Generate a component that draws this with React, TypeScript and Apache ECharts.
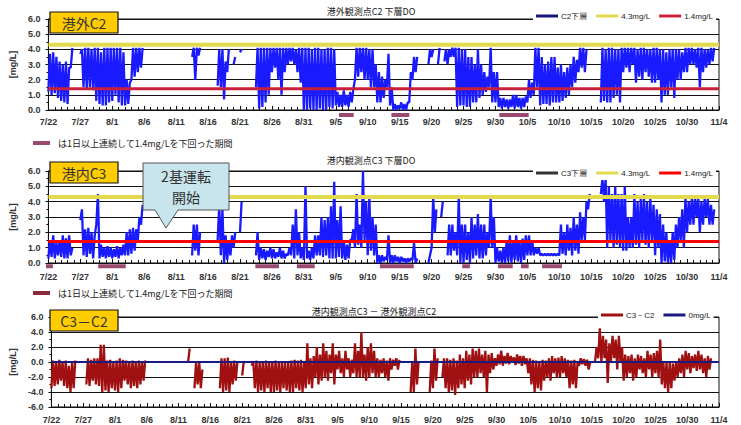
import React, { useEffect, useRef } from 'react';
import * as echarts from 'echarts';

type R = [number, number] | null;
const N = null;

// day 0 = 7/22, one tick label every 5 days
const DATE_LABELS = ['7/22', '7/27', '8/1', '8/6', '8/11', '8/16', '8/21', '8/26', '8/31', '9/5', '9/10', '9/15', '9/20', '9/25', '9/30', '10/5', '10/10', '10/15', '10/20', '10/25', '10/30', '11/4'];

// [low, high] per half day (AM, PM)
const C2_RANGES: R[] = [
  [1.2, 3.7], [1.0, 3.8], // 7/22
  [1.1, 3.5], [0.8, 3.2],
  [0.6, 3.0], [0.5, 3.2],
  [0.4, 2.8], [2.8, 4.1],
  N, N,
  [3.7, 4.0], [1.5, 4.1], // 7/27
  [1.4, 4.1], [1.5, 4.0],
  [1.3, 4.1], [0.6, 4.1],
  [0.4, 3.8], [0.3, 4.1],
  [0.3, 4.1], [0.5, 4.1],
  [0.6, 4.1], [1.0, 4.1], // 8/1
  [0.5, 4.1], [0.3, 3.8],
  [0.3, 2.0], [0.4, 1.8],
  [2.0, 4.1], [2.2, 4.1],
  [2.5, 4.1], [2.8, 4.1],
  N, N, // 8/6
  N, N,
  N, N,
  N, N,
  N, N,
  N, N, // 8/11
  N, N,
  N, [3.5, 4.1],
  [2.0, 4.1], [3.6, 4.1],
  N, N,
  N, N, // 8/16
  N, [1.6, 4.0],
  [1.5, 4.0], [0.7, 3.2],
  [2.5, 4.0], N,
  [3.0, 3.5], N,
  [3.8, 4.0], N, // 8/21
  N, N,
  N, [1.5, 4.1],
  [0.1, 4.1], [0.2, 4.1],
  [0.5, 4.1], [1.0, 4.1],
  [2.5, 4.1], [2.8, 4.1], // 8/26
  [2.0, 4.1], [1.0, 4.1],
  [2.5, 4.1], [3.0, 4.1],
  [3.2, 4.1], [3.0, 4.0],
  [2.5, 4.1], [1.8, 4.1],
  [0.0, 4.1], [0.0, 4.1], // 8/31
  [0.1, 4.0], [0.0, 4.1],
  [0.0, 4.1], [0.1, 4.0],
  [0.0, 4.0], [0.0, 4.1],
  [0.2, 4.1], [0.1, 4.0],
  [0.3, 1.2], [0.2, 1.0], // 9/5
  [0.2, 1.3], [0.3, 1.0],
  [0.2, 1.2], [0.5, 1.4],
  [2.0, 4.1], [2.2, 4.1],
  [2.5, 4.1], [2.0, 4.1],
  [2.0, 4.0], [1.5, 4.0], // 9/10
  [1.5, 3.0], [0.5, 2.5],
  [0.5, 2.2], [0.8, 2.0],
  [1.5, 3.7], [0.3, 1.5],
  [0.0, 0.4], [0.0, 0.3],
  [0.1, 0.5], [0.0, 0.4], // 9/15
  [0.0, 0.5], [0.5, 2.5],
  [2.0, 3.5], [2.5, 3.5],
  N, N,
  N, [3.0, 4.0],
  [3.5, 4.0], N, // 9/20
  [3.0, 4.1], N,
  [3.2, 4.0], [3.0, 4.0],
  [3.5, 4.1], [3.5, 4.1],
  [0.2, 4.1], [0.3, 4.0],
  [0.3, 4.0], [0.2, 3.5], // 9/25
  [0.2, 3.5], [0.5, 3.0],
  [0.5, 4.0], [0.8, 3.0],
  [1.0, 2.5], [1.2, 2.2],
  [1.5, 4.1], [0.5, 2.5],
  [0.5, 2.5], [0.2, 0.8], // 9/30
  [0.1, 0.8], [0.2, 0.7],
  [0.1, 0.7], [0.2, 1.0],
  [0.1, 1.0], [0.2, 0.8],
  [0.1, 0.8], [0.2, 0.9],
  [0.5, 2.0], [0.8, 1.8], // 10/5
  [1.0, 4.1], [1.5, 4.1],
  [0.3, 3.5], [0.4, 3.0],
  [0.4, 3.2], [0.3, 3.5],
  [0.5, 3.5], [0.5, 2.8],
  [0.5, 3.0], [0.6, 2.5], // 10/10
  [0.8, 2.8], [1.0, 3.0],
  [1.5, 3.5], [1.8, 3.3],
  [2.5, 4.1], [2.8, 4.1],
  [2.5, 4.0], N,
  N, N, // 10/15
  N, [0.5, 4.1],
  [0.6, 4.0], [0.5, 4.1],
  [0.5, 4.1], [0.8, 4.0],
  [1.0, 4.0], [0.5, 4.1],
  [2.5, 4.1], [2.8, 4.1], // 10/20
  [2.5, 4.1], [3.0, 4.1],
  [1.8, 4.0], [2.2, 4.1],
  [2.0, 4.1], [2.5, 4.0],
  [2.2, 4.0], [1.8, 4.1],
  [1.8, 4.1], [2.0, 4.0], // 10/25
  [0.5, 4.0], [1.0, 3.8],
  [1.0, 4.0], [1.5, 4.0],
  [0.8, 4.0], [2.0, 4.0],
  [2.0, 3.8], [2.5, 4.1],
  [2.5, 4.1], [3.0, 4.1], // 10/30
  [3.0, 4.0], [2.8, 4.1],
  [1.5, 4.1], [2.5, 4.0],
  [2.8, 4.0], [3.0, 4.1],
  [3.2, 4.1], N,
];

const C3_RANGES: R[] = [
  [0.3, 1.5], [0.4, 1.8], // 7/22
  [0.3, 1.3], [0.5, 1.5],
  [0.4, 1.8], [0.3, 1.6],
  [0.3, 1.8], [0.5, 1.0],
  N, N,
  [2.8, 3.5], [0.5, 2.2], // 7/27
  [0.4, 2.3], [0.6, 2.0],
  [0.3, 1.8], [2.5, 4.5],
  [0.3, 1.2], [0.4, 1.0],
  [0.3, 1.1], [0.4, 1.0],
  [0.3, 0.9], [0.4, 1.1], // 8/1
  [0.3, 1.0], [0.5, 1.2],
  [0.5, 2.0], [0.5, 2.2],
  [0.6, 2.3], [0.8, 2.2],
  [1.5, 3.0], [2.5, 3.8],
  N, N, // 8/6
  N, N,
  N, N,
  N, N,
  N, N,
  N, N, // 8/11
  N, N,
  N, [0.5, 2.5],
  [0.8, 2.5], [0.5, 2.0],
  N, N,
  N, N, // 8/16
  N, [1.5, 3.8],
  [0.5, 3.5], [0.0, 1.8],
  [0.2, 1.5], [0.5, 1.8],
  [1.0, 2.0], N,
  [2.0, 4.0], N, // 8/21
  N, N,
  N, [0.5, 2.0],
  [0.2, 1.0], [0.3, 0.9],
  [0.2, 0.8], [0.4, 1.0],
  [0.3, 0.9], [0.3, 0.7], // 8/26
  [0.4, 1.0], [0.3, 0.8],
  [0.3, 0.6], [0.5, 1.0],
  [0.5, 2.5], [0.3, 3.5],
  [0.5, 2.0], [0.3, 1.0],
  [0.2, 5.0], [0.3, 0.8], // 8/31
  [0.2, 1.0], [0.3, 1.8],
  [0.5, 1.8], [0.5, 3.0],
  [0.4, 2.8], [0.5, 3.0],
  [0.3, 3.7], [0.3, 5.3],
  [0.3, 2.8], [0.4, 3.7], // 9/5
  [0.3, 1.5], [0.2, 1.2],
  [0.3, 1.5], [1.5, 2.2],
  [1.0, 4.5], [1.2, 2.5],
  [1.0, 6.0], [1.5, 4.0],
  [0.5, 4.3], [0.8, 3.0], // 9/10
  [0.5, 2.5], [0.0, 0.5],
  [0.0, 0.5], [0.1, 0.4],
  [0.2, 1.8], [0.0, 0.5],
  [0.0, 0.5], [0.1, 0.4],
  [0.0, 0.4], [0.1, 0.3], // 9/15
  [0.0, 0.3], [0.1, 0.3],
  [0.2, 1.3], [0.0, 0.3],
  N, N,
  N, [0.0, 0.5],
  [1.0, 4.3], [2.0, 3.5], // 9/20
  N, [3.0, 4.0],
  N, [0.5, 2.5],
  [0.5, 2.5], [0.8, 2.0],
  [0.5, 4.3], [0.0, 2.5],
  [0.0, 2.5], [0.2, 2.0], // 9/25
  [0.0, 3.0], [0.3, 2.5],
  [0.5, 3.2], [0.3, 2.5],
  [0.3, 2.5], [0.5, 2.0],
  [1.0, 4.3], [1.0, 3.0],
  [0.0, 1.0], [0.1, 0.8], // 9/30
  [0.0, 1.0], [0.0, 1.5],
  [0.1, 1.8], [0.0, 1.5],
  [0.2, 1.8], [0.1, 1.5],
  [0.0, 1.6], [0.2, 1.8],
  [0.5, 1.8], [0.5, 1.5], // 10/5
  [0.5, 1.0], [0.6, 1.0],
  [0.5, 0.6], [0.5, 0.6],
  [0.5, 0.6], [0.5, 0.6],
  [0.5, 0.6], [0.5, 0.6],
  [0.5, 2.5], [0.6, 2.0], // 10/10
  [0.5, 2.5], [0.8, 2.3],
  [0.5, 3.0], [0.8, 2.5],
  [0.6, 3.3], [1.5, 3.0],
  [1.5, 4.0], [3.5, 4.5],
  N, N, // 10/15
  N, [4.5, 5.5],
  [4.0, 5.5], [1.0, 5.0],
  [1.5, 4.5], [1.0, 5.0],
  [1.2, 4.5], [1.0, 4.5],
  [0.8, 5.0], [0.8, 3.0], // 10/20
  [1.0, 3.0], [1.0, 4.5],
  [1.2, 4.0], [1.0, 4.2],
  [1.5, 4.5], [1.2, 4.0],
  [1.0, 4.2], [1.5, 3.8],
  [0.5, 3.5], [1.0, 3.2], // 10/25
  [0.0, 2.5], [0.1, 2.0],
  [0.0, 1.5], [0.0, 2.0],
  [0.2, 2.5], [1.0, 3.0],
  [1.5, 3.5], [1.0, 4.3],
  [2.0, 4.0], [2.5, 4.3], // 10/30
  [2.5, 4.2], [3.0, 4.3],
  [2.0, 4.0], [2.5, 4.2],
  [3.0, 4.2], [2.5, 3.8],
  [2.5, 3.5], N,
];

const DIFF_RANGES: R[] = [
  [-3.5, 0.2], [-3.2, 0.0], // 7/22
  [-3.0, 0.3], [-2.5, 0.0],
  [-3.2, 0.2], [-3.5, -0.5],
  [-4.0, 0.0], [-3.5, 0.2],
  N, N,
  N, [-3.0, 0.5], // 7/27
  [-3.2, 0.3], [-2.5, 0.5],
  [-3.0, 0.5], [-3.2, 2.3],
  [-4.0, 2.3], [-3.8, 0.2],
  [-4.0, 0.3], [-3.5, 0.0],
  [-3.8, 0.2], [-4.0, 0.5], // 8/1
  [-3.5, 0.3], [-2.5, 0.2],
  [-3.0, 0.0], [-3.5, 0.2],
  [-3.2, 0.0], [-3.5, 0.2],
  [-3.0, 0.1], [-2.5, 0.2],
  N, N, // 8/6
  N, N,
  N, N,
  N, N,
  N, N,
  N, N, // 8/11
  N, [0.0, 1.8],
  N, [-3.5, 0.0],
  [-3.0, 0.0], [-3.5, -1.0],
  N, N,
  N, N, // 8/16
  N, [-3.5, 0.5],
  [-4.0, 0.5], [-3.8, 0.6],
  [-4.0, 0.0], [-3.0, 0.2],
  [-2.5, 0.0], N,
  [-1.8, 0.0], N, // 8/21
  N, [-0.5, 0.1],
  [-3.5, 0.2], [-4.0, 0.0],
  [-3.8, 0.1], [-4.0, 0.2],
  [-3.5, 0.0], [-4.0, 0.1],
  [-4.0, 0.2], [-3.8, 0.0], // 8/26
  [-4.0, 0.1], [-3.5, 0.0],
  [-3.8, 0.0], [-4.0, 0.2],
  [-4.0, 0.3], [-3.5, 0.2],
  [-3.8, 0.3], [-4.0, 0.0],
  [-3.5, 2.5], [-3.0, 0.5], // 8/31
  [-3.5, 0.8], [-2.0, 2.0],
  [-3.0, 1.0], [-2.5, 2.5],
  [-2.0, 1.5], [-2.5, 1.0],
  [-1.5, 2.5], [-3.0, 1.0],
  [-1.0, 1.5], [-1.5, 0.5], // 9/5
  [-2.0, 1.5], [-1.0, 0.5],
  [-2.0, 0.3], [-1.5, 2.5],
  [-2.0, 1.5], [-2.0, 4.0],
  [-2.0, 1.0], [-2.5, 2.0],
  [-2.0, 2.5], [-1.5, 1.5], // 9/10
  [-2.0, 0.5], [-2.0, 0.3],
  [-1.5, 0.5], [-2.0, 0.2],
  [-2.5, 0.5], [-1.0, 0.3],
  [-0.5, 0.5], [-1.0, 0.3],
  N, N, // 9/15
  N, [-4.0, 0.0],
  [-4.0, 1.8], [-3.0, 0.0],
  N, N,
  N, [-4.0, 0.2],
  [-3.5, 1.8], [-2.5, 0.5], // 9/20
  N, [-2.0, 0.5],
  [-3.5, 0.5], [-4.0, 0.3],
  [-3.8, 0.5], [-4.4, 0.2],
  [-3.5, 1.0], [-3.0, 0.5],
  [-3.5, 1.5], [-2.5, 1.0], // 9/25
  [-3.0, 1.8], [-2.0, 1.5],
  [-2.0, 1.8], [-1.5, 1.0],
  [-2.0, 1.5], [-4.0, 1.0],
  [-1.5, 1.2], [-1.0, 0.5],
  [-0.5, 1.0], [-0.3, 1.5], // 9/30
  [-0.5, 0.8], [-0.2, 1.2],
  [-0.3, 0.8], [0.0, 0.6],
  [-0.4, 1.0], [-0.2, 0.8],
  [-0.5, 0.8], [-0.3, 0.5],
  [-1.5, 0.5], [-3.0, 0.3], // 10/5
  [-4.0, 0.2], [-3.5, 0.0],
  [-3.8, 0.3], [-2.5, 0.2],
  [-2.0, 0.5], [-2.5, 0.8],
  [-1.5, 0.5], [-2.0, 0.6],
  [-2.0, 0.8], [-1.5, 0.5], // 10/10
  [-2.0, 0.3], [-3.5, 0.2],
  [-3.0, 0.3], [-3.5, 0.0],
  [-0.5, 0.5], [-0.3, 0.4],
  [-0.5, 0.3], [-1.0, 0.0],
  N, [0.0, 2.0], // 10/15
  [0.5, 4.5], [0.0, 3.5],
  [0.5, 3.0], [-2.8, 2.5],
  [0.0, 3.5], [0.5, 3.0],
  [-1.0, 3.5], [0.0, 2.0],
  [-2.5, 1.0], [-2.0, 0.8], // 10/20
  [-1.5, 1.0], [-2.5, 0.5],
  [-2.0, 1.0], [-1.0, 0.8],
  [-1.5, 0.5], [-2.0, 1.5],
  [-1.0, 1.0], [-2.0, 1.2],
  [-1.5, 1.5], [-2.0, 3.0], // 10/25
  [-3.0, 0.0], [-3.5, 0.0],
  [-4.0, 0.0], [-3.5, -0.2],
  [-2.5, 0.0], [-2.0, 0.5],
  [-1.5, 1.0], [-2.0, 1.5],
  [-1.0, 1.2], [-1.5, 0.8], // 10/30
  [-0.8, 1.0], [-1.2, 1.5],
  [-1.0, 1.0], [-1.5, 0.5],
  [-2.0, 0.8], [-1.0, 0.5],
  N, N,
];

// periods (in days from 7/22) below 1.4 mg/L for a day or more
const C2_LOW_PERIODS: [number, number][] = [[45.5, 47.8], [53.7, 56.5], [70.6, 75.2]];
const C3_LOW_PERIODS: [number, number][] = [[-0.8, 0.7], [7.8, 12.1], [32.4, 36.1], [38.9, 41.7], [51.9, 57.2], [64.8, 66.0], [70.4, 72.7], [74.0, 75.2], [77.3, 80.4]];

const UPPER_REF = 4.3;
const LOWER_REF = 1.4;
const ZERO_REF = 0;
const X_MAX = 105;

const FONT = 'Liberation Sans, Arial, sans-serif';
const JP = 'Noto Sans CJK JP, sans-serif';

function zigzag(ranges: R[]) {
  const pts: any[] = [];
  ranges.forEach((r, i) => {
    const t = i * 0.5;
    if (!r) {
      pts.push([t, '-']);
    } else {
      pts.push([t, r[0]]);
      pts.push([t + 0.25, r[1]]);
    }
  });
  return pts;
}

function periodData(periods: [number, number][], y: number) {
  const pts: any[] = [];
  periods.forEach(([a, b]) => {
    pts.push([a, y], [b, y], [b, '-']);
  });
  return pts;
}

function refLine(v: number) {
  return [[0, v], [X_MAX, v]];
}

export default function App() {
  const ref = useRef<HTMLDivElement>(null);
  useEffect(() => {
    if (!ref.current) return;
    const chart = echarts.init(ref.current, undefined, { renderer: 'svg' });

    const grids = [
      { left: 45, top: 19, width: 674, height: 91 },
      { left: 45, top: 171, width: 674, height: 92 },
      { left: 45, top: 317, width: 674, height: 90 },
    ].map((g) => ({ ...g, show: true, borderColor: '#111', borderWidth: 1, backgroundColor: 'transparent' }));

    const xAxis = (i: number, margin: number) => ({
      type: 'value',
      gridIndex: i,
      min: 0,
      max: X_MAX,
      interval: 5,
      axisLine: { show: true, onZero: false, lineStyle: { color: '#111', width: 1 } },
      axisTick: { show: true, inside: true, length: 4, lineStyle: { color: '#111' } },
      minorTick: { show: true, splitNumber: 5, length: 3, lineStyle: { color: '#111' } },
      splitLine: { show: false },
      axisLabel: {
        formatter: (v: number) => DATE_LABELS[Math.round(v / 5)] ?? '',
        fontSize: 9,
        fontWeight: 'bold',
        color: '#333',
        margin,
        fontFamily: FONT,
      },
    });

    const yAxis = (i: number, min: number, max: number, interval: number) => ({
      type: 'value',
      gridIndex: i,
      min,
      max,
      interval,
      name: '[mg/L]',
      nameLocation: 'middle',
      nameGap: 26,
      nameTextStyle: { fontSize: 9, fontWeight: 'bold', color: '#333', fontFamily: FONT },
      axisLine: { show: true, lineStyle: { color: '#111', width: 1 } },
      axisTick: { show: true, length: 3, lineStyle: { color: '#111' } },
      minorTick: { show: true, splitNumber: 2, length: 2, lineStyle: { color: '#111' } },
      splitLine: { show: true, lineStyle: { color: '#111', width: 1 } },
      axisLabel: {
        formatter: (v: number) => v.toFixed(1),
        fontSize: 9,
        fontWeight: 'bold',
        color: '#333',
        margin: 8,
        fontFamily: FONT,
      },
    });

    const lineBase = {
      type: 'line',
      symbol: 'none',
      showSymbol: false,
      connectNulls: false,
      silent: true,
    };

    const dataLine = (color: string) => ({ color, width: 2.3, join: 'bevel' });

    const legendBase = {
      icon: 'rect',
      itemWidth: 22,
      itemHeight: 3,
      itemGap: 9,
      selectedMode: false,
      backgroundColor: '#fff',
      padding: [3, 3],
      textStyle: { fontSize: 8, color: '#222', fontFamily: FONT, padding: [0, 0, 0, -2] },
    };

    const titleBox = (y: number, label: string) => [
      {
        type: 'rect',
        z: 100,
        shape: { x: 50, y, width: 68, height: 21 },
        style: { fill: '#ffcc00', stroke: '#111', lineWidth: 1.2 },
      },
      {
        type: 'text',
        z: 101,
        x: 84,
        y: y + 10.5,
        style: { text: label, fontSize: 14, fill: '#333', textAlign: 'center', textVerticalAlign: 'middle', fontFamily: JP },
      },
    ];

    const chartTitle = (x: number, y: number, text: string) => ({
      type: 'text',
      z: 100,
      x,
      y,
      style: { text, fontSize: 9, fill: '#222', textAlign: 'center', textVerticalAlign: 'middle', fontFamily: JP },
    });

    const note = (y: number, color: string) => [
      { type: 'line', z: 100, shape: { x1: 33, y1: y, x2: 50, y2: y }, style: { stroke: color, lineWidth: 4 } },
      {
        type: 'text',
        z: 100,
        x: 58,
        y,
        style: { text: 'は1日以上連続して1.4mg/Lを下回った期間', fontSize: 9, fill: '#222', textVerticalAlign: 'middle', fontFamily: JP },
      },
    ];

    const option: any = {
      animation: false,
      textStyle: { fontFamily: FONT },
      grid: grids,
      xAxis: [xAxis(0, 7), xAxis(1, 9), xAxis(2, 8)],
      yAxis: [yAxis(0, 0, 6, 1), yAxis(1, 0, 6, 1), yAxis(2, -6, 6, 2)],
      legend: [
        {
          ...legendBase,
          left: 533,
          top: 9,
          data: [
            { name: 'C2下層', itemStyle: { color: '#16167a' } },
            { name: '4.3mg/L', itemStyle: { color: '#e3d94e' } },
            { name: '1.4mg/L', itemStyle: { color: '#c8203a' } },
          ],
        },
        {
          ...legendBase,
          left: 533,
          top: 166,
          data: [
            { name: 'C3下層', itemStyle: { color: '#333' } },
            { name: '4.3mg/L', itemStyle: { color: '#e3d94e' } },
            { name: '1.4mg/L', itemStyle: { color: '#ff0000' } },
          ],
        },
        {
          ...legendBase,
          left: 598,
          top: 308,
          data: [
            { name: 'C3－C2', itemStyle: { color: '#a01010' } },
            { name: '0mg/L', itemStyle: { color: '#1a1a80' } },
          ],
        },
      ],
      series: [
        // top panel
        { ...lineBase, name: 'C2下層', xAxisIndex: 0, yAxisIndex: 0, data: zigzag(C2_RANGES), lineStyle: dataLine('#1a1aff'), itemStyle: { color: '#1a1aff' }, z: 2 },
        { ...lineBase, name: '4.3mg/L', xAxisIndex: 0, yAxisIndex: 0, data: refLine(UPPER_REF), lineStyle: { color: '#e3d94e', width: 4 }, itemStyle: { color: '#e3d94e' }, z: 3 },
        { ...lineBase, name: '1.4mg/L', xAxisIndex: 0, yAxisIndex: 0, data: refLine(LOWER_REF), lineStyle: { color: '#c8203a', width: 3 }, itemStyle: { color: '#c8203a' }, z: 3 },
        { ...lineBase, name: 'C2期間', xAxisIndex: 0, yAxisIndex: 0, data: periodData(C2_LOW_PERIODS, -0.33), clip: false, lineStyle: { color: '#9a4a70', width: 4, cap: 'butt' }, z: 4 },
        // middle panel
        { ...lineBase, name: 'C3下層', xAxisIndex: 1, yAxisIndex: 1, data: zigzag(C3_RANGES), lineStyle: dataLine('#1a1aff'), itemStyle: { color: '#1a1aff' }, z: 2 },
        { ...lineBase, name: '4.3mg/L', xAxisIndex: 1, yAxisIndex: 1, data: refLine(UPPER_REF), lineStyle: { color: '#e3d94e', width: 4 }, itemStyle: { color: '#e3d94e' }, z: 3 },
        { ...lineBase, name: '1.4mg/L', xAxisIndex: 1, yAxisIndex: 1, data: refLine(LOWER_REF), lineStyle: { color: '#ff0000', width: 3 }, itemStyle: { color: '#ff0000' }, z: 3 },
        { ...lineBase, name: 'C3期間', xAxisIndex: 1, yAxisIndex: 1, data: periodData(C3_LOW_PERIODS, -0.22), clip: false, lineStyle: { color: '#9a4a70', width: 4, cap: 'butt' }, z: 4 },
        // bottom panel
        { ...lineBase, name: 'C3－C2', xAxisIndex: 2, yAxisIndex: 2, data: zigzag(DIFF_RANGES), lineStyle: dataLine('#a01010'), itemStyle: { color: '#a01010' }, z: 2 },
        { ...lineBase, name: '0mg/L', xAxisIndex: 2, yAxisIndex: 2, data: refLine(ZERO_REF), lineStyle: { color: '#1a1a80', width: 2 }, itemStyle: { color: '#1a1a80' }, z: 3 },
      ],
      graphic: [
        ...titleBox(12, '港外C2'),
        ...titleBox(162, '港内C3'),
        ...titleBox(310, 'C3－C2'),
        chartTitle(371, 11, '港外観測点C2 下層DO'),
        chartTitle(371, 160, '港内観測点C3 下層DO'),
        chartTitle(374, 311, '港内観測点C3 － 港外観測点C2'),
        ...note(143, '#9a4a70'),
        ...note(293, '#8b2a3a'),
        {
          type: 'polygon',
          z: 110,
          shape: { points: [[143, 163], [229, 163], [229, 210], [178, 210], [166, 228], [155, 210], [143, 210]] },
          style: { fill: '#c8e4ec', stroke: '#555', lineWidth: 1 },
        },
        {
          type: 'text',
          z: 111,
          x: 186,
          y: 176,
          style: { text: '2基運転', fontSize: 14, fill: '#333', textAlign: 'center', textVerticalAlign: 'middle', fontFamily: JP, lineHeight: 16 },
        },
        {
          type: 'text',
          z: 111,
          x: 186,
          y: 197,
          style: { text: '開始', fontSize: 14, fill: '#333', textAlign: 'center', textVerticalAlign: 'middle', fontFamily: JP, lineHeight: 16 },
        },
      ],
    };

    chart.setOption(option);
    return () => chart.dispose();
  }, []);

  return <div ref={ref} style={{ position: 'fixed', left: 0, top: 0, width: 741, height: 425, background: '#fff' }} />;
}
